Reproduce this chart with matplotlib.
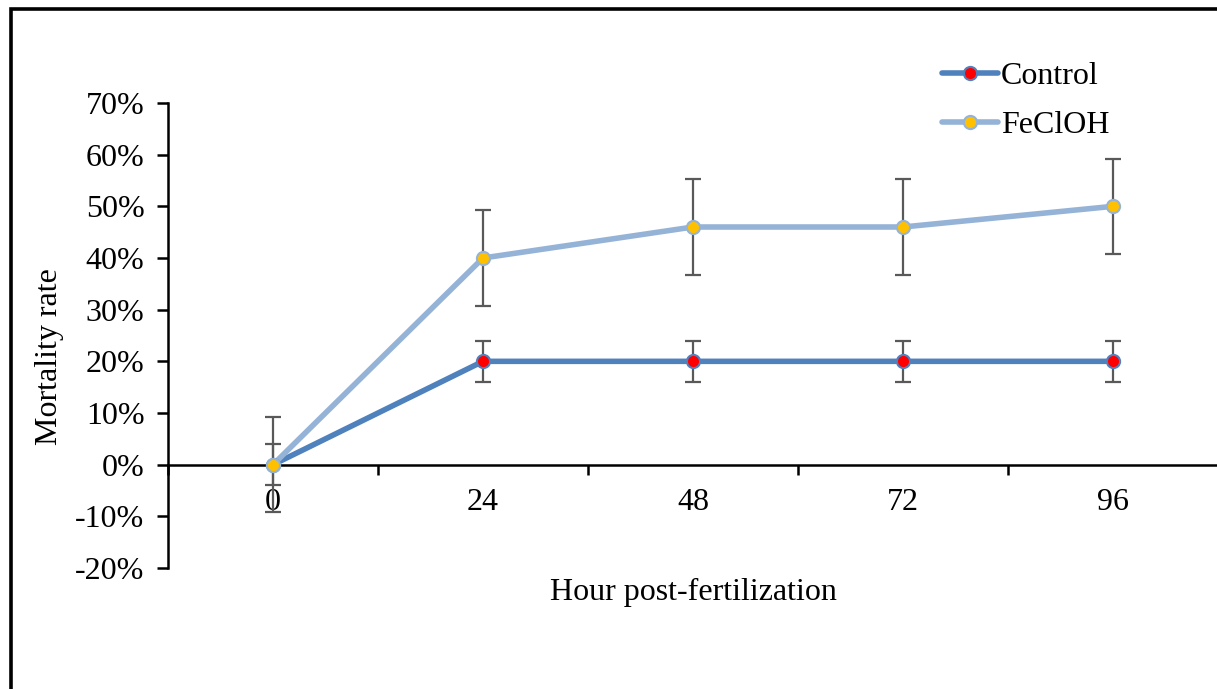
import matplotlib.pyplot as plt
import matplotlib.patches as patches
from matplotlib.ticker import FuncFormatter, FixedLocator
import numpy as np

# data
hours = ["0", "24", "48", "72", "96"]
control = [0.0, 0.20, 0.20, 0.20, 0.20]
control_err = [0.04, 0.04, 0.04, 0.04, 0.04]
feclo = [0.0, 0.40, 0.46, 0.46, 0.50]
feclo_err = [0.092, 0.092, 0.092, 0.092, 0.092]

plt.rcParams['font.family'] = ['Liberation Serif', 'DejaVu Serif']
plt.rcParams['font.size'] = 23

W, H = 1217, 689
fig = plt.figure(figsize=(W / 100, H / 100), dpi=100)
ax = fig.add_axes([168 / W, 1 - 568 / H, 1050 / W, 465 / H])

x = np.arange(len(hours))
c_ctrl = '#4F81BD'
c_fe = '#95B3D7'
err_col = '#595959'

# lines first
ax.plot(x, control, color=c_ctrl, lw=4, zorder=2, solid_capstyle='round')
ax.plot(x, feclo, color=c_fe, lw=4, zorder=2, solid_capstyle='round')

# error bars
ax.errorbar(x, control, yerr=control_err, fmt='none', ecolor=err_col,
            elinewidth=1.6, capsize=5.5, capthick=1.6, zorder=3)
ax.errorbar(x, feclo, yerr=feclo_err, fmt='none', ecolor=err_col,
            elinewidth=1.6, capsize=5.5, capthick=1.6, zorder=3)

# markers
ax.plot(x, control, ls='none', marker='o', ms=9.5, mfc='#FF0000',
        mec=c_ctrl, mew=1.5, zorder=4)
ax.plot(x, feclo, ls='none', marker='o', ms=9.5, mfc='#FFC000',
        mec=c_fe, mew=1.5, zorder=5)

# legend proxies
h1, = ax.plot([], [], color=c_ctrl, lw=4, marker='o', ms=9.5,
              mfc='#FF0000', mec=c_ctrl, mew=1.5, solid_capstyle='round')
h2, = ax.plot([], [], color=c_fe, lw=4, marker='o', ms=9.5,
              mfc='#FFC000', mec=c_fe, mew=1.5, solid_capstyle='round')
fig.legend([h1, h2], ['Control', 'FeClOH'], loc='upper left',
           bbox_to_anchor=(926 / W, 1 - 46 / H), frameon=False,
           handlelength=1.75, handletextpad=0.1, labelspacing=0.62,
           borderpad=0, fontsize=23)

ax.set_xlim(-0.5, len(hours) - 0.5)
ax.set_ylim(-0.2, 0.7)
ax.set_yticks(np.arange(-0.2, 0.71, 0.1))
ax.yaxis.set_major_formatter(FuncFormatter(lambda v, p: f"{round(v * 100):d}%"))

ax.xaxis.set_major_locator(FixedLocator(np.arange(-0.5, len(hours), 1.0)))
ax.xaxis.set_minor_locator(FixedLocator(x))
ax.set_xticklabels([], minor=False)
ax.set_xticklabels(hours, minor=True)
ax.tick_params(axis='x', which='major', direction='out', length=7, width=1.8)
ax.tick_params(axis='x', which='minor', length=0, pad=17)
ax.tick_params(axis='y', direction='out', length=8, width=1.8, pad=9)

for s in ['top', 'right']:
    ax.spines[s].set_visible(False)
ax.spines['bottom'].set_position(('data', 0))
ax.spines['bottom'].set_linewidth(1.8)
ax.spines['left'].set_linewidth(1.8)
ax.spines['bottom'].set_zorder(1)

fig.text(50 / W, 1 - 357 / H, 'Mortality rate', rotation=90,
         ha='center', va='center', fontsize=23)
fig.text(693 / W, 1 - 592 / H, 'Hour post-fertilization',
         ha='center', va='center', fontsize=23)

# outer frame (partially cropped at right/bottom)
fig.patches.append(patches.Rectangle((11 / W, -0.1), 1.2, 1 - 9 / H + 0.1,
                                     transform=fig.transFigure, fill=False,
                                     ec='black', lw=2.6))

fig.savefig('out.png', dpi=100)
